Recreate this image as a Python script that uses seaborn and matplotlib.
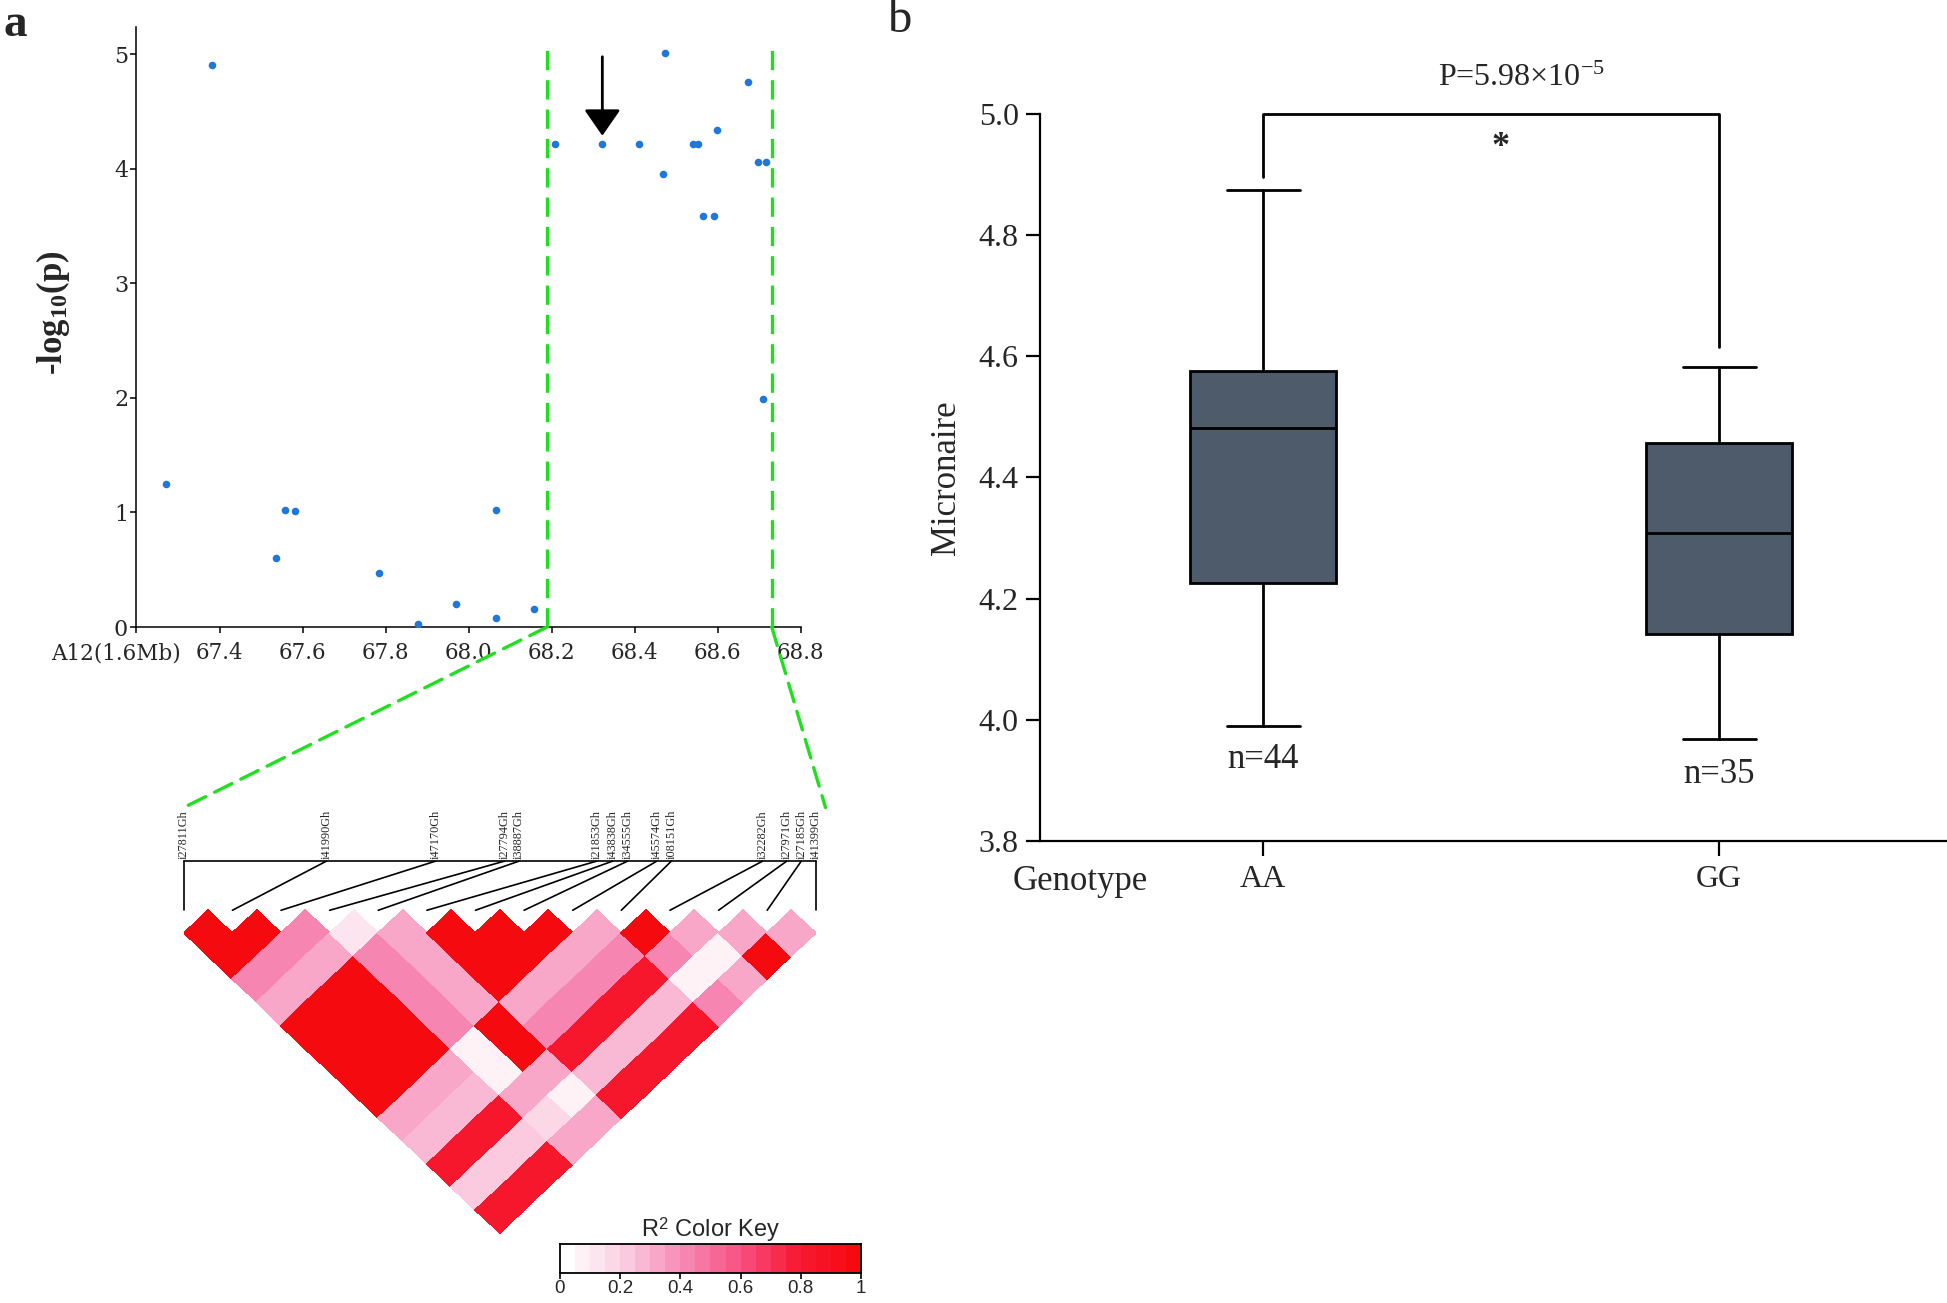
import numpy as np
import matplotlib
matplotlib.use("Agg")
import matplotlib.pyplot as plt
import seaborn as sns
from matplotlib.colors import LinearSegmentedColormap, Normalize
from matplotlib.patches import ConnectionPatch
from matplotlib.transforms import ScaledTranslation

# ---------------- data ----------------
snp_pos = [67.272, 67.382, 67.536, 67.558, 67.582, 67.783, 67.878, 67.970, 68.065, 68.067, 68.158,
           68.207, 68.322, 68.410, 68.469, 68.474, 68.540, 68.553, 68.565, 68.591, 68.598,
           68.674, 68.696, 68.710, 68.717]
snp_logp = [1.25, 4.91, 0.60, 1.02, 1.01, 0.47, 0.03, 0.20, 0.08, 1.02, 0.16,
            4.22, 4.22, 4.22, 3.96, 5.01, 4.22, 4.22, 3.59, 3.59, 4.34,
            4.76, 4.06, 1.99, 4.06]
region_bounds = [68.189, 68.730]
lead_snp = 68.322
x_ticks_a = [67.2, 67.4, 67.6, 67.8, 68.0, 68.2, 68.4, 68.6, 68.8]
x_ticklabels_a = ["A12(1.6Mb)", "67.4", "67.6", "67.8", "68.0", "68.2", "68.4", "68.6", "68.8"]

ld_labels = ["i27811Gh", "i41990Gh", "i47170Gh", "i27794Gh", "i38887Gh", "i21853Gh", "i43838Gh",
             "i34555Gh", "i45574Gh", "i08151Gh", "i32282Gh", "i27971Gh", "i27185Gh", "i41399Gh"]
# r^2 upper triangle, row i lists pairs (i, i+1 ... 13)
ld_r2_rows = [
    [1.0, 1.0, 0.42, 0.33, 1.0, 1.0, 1.0, 1.0, 0.33, 0.27, 0.82, 0.20, 0.82],
    [1.0, 0.42, 0.33, 1.0, 1.0, 1.0, 1.0, 0.33, 0.27, 0.82, 0.20, 0.82],
    [0.42, 0.33, 1.0, 1.0, 1.0, 1.0, 0.33, 0.27, 0.82, 0.20, 0.82],
    [0.12, 0.42, 0.42, 0.42, 0.42, 0.09, 0.09, 0.33, 0.15, 0.33],
    [0.33, 0.33, 0.33, 0.33, 1.0, 1.0, 0.33, 0.08, 0.33],
    [1.0, 1.0, 1.0, 0.33, 0.40, 0.82, 0.27, 0.82],
    [1.0, 1.0, 0.33, 0.40, 0.82, 0.27, 0.82],
    [1.0, 0.33, 0.40, 0.82, 0.27, 0.82],
    [0.33, 0.40, 0.82, 0.27, 0.82],
    [1.0, 0.40, 0.08, 0.40],
    [0.33, 0.08, 0.33],
    [0.33, 1.0],
    [0.33],
]
key_ticks = [0, 0.2, 0.4, 0.6, 0.8, 1.0]
key_ticklabels = ["0", "0.2", "0.4", "0.6", "0.8", "1"]

genotypes = ["AA", "GG"]
box_whislo = [3.990, 3.969]
box_q1 = [4.225, 4.141]
box_med = [4.482, 4.309]
box_q3 = [4.575, 4.457]
box_whishi = [4.874, 4.583]
group_n = [44, 35]
y_ticks_b = [3.8, 4.0, 4.2, 4.4, 4.6, 4.8, 5.0]
p_text = r"P=5.98×10$^{\mathregular{-5}}$"

# ---------------- style ----------------
sns.set_theme(style="ticks")
plt.rcParams["font.family"] = ["Liberation Serif", "DejaVu Serif"]
plt.rcParams["mathtext.fontset"] = "custom"
plt.rcParams["mathtext.rm"] = "Liberation Serif"
plt.rcParams["mathtext.bf"] = "Liberation Serif:bold"
plt.rcParams["mathtext.it"] = "Liberation Serif:italic"

GREEN = "#1fe01f"
DOT = "#1f78d8"
BOXC = "#4e5b6b"
green_ls = (0, (5.8, 3.0))

cmap = LinearSegmentedColormap.from_list(
    "ld", [(0.0, "#ffffff"), (0.2, "#fbcde0"), (0.4, "#f68bb6"), (0.6, "#f85282"),
           (0.8, "#f71a35"), (1.0, "#f50a10")]).resampled(20)
norm = Normalize(0, 1)

fig = plt.figure(figsize=(19.47, 13.03), dpi=100)

# ---------------- panel a: scatter ----------------
ax_a = fig.add_axes([0.0701, 0.5188, 0.3412, 0.4605])
sns.scatterplot(x=snp_pos, y=snp_logp, ax=ax_a, color=DOT, s=30, linewidth=0, zorder=4, legend=False)
ax_a.set_xlim(67.2, 68.8)
ax_a.set_ylim(0, 5.24)
ax_a.set_xticks(x_ticks_a)
ax_a.set_xticklabels(x_ticklabels_a, family="DejaVu Serif", fontsize=15.5)
ax_a.set_yticks(range(6))
ax_a.set_yticklabels([str(v) for v in range(6)], family="DejaVu Serif", fontsize=16)
for s in ["top", "right"]:
    ax_a.spines[s].set_visible(False)
for s in ["left", "bottom"]:
    ax_a.spines[s].set_linewidth(1.1)
    ax_a.spines[s].set_color("black")
ax_a.tick_params(length=4, width=1.1, color="black", pad=2)
ax_a.tick_params(axis="x", pad=7)
lab0 = ax_a.get_xticklabels()[0]
lab0.set_transform(lab0.get_transform() + ScaledTranslation(-0.20, 0, fig.dpi_scale_trans))
ax_a.set_ylabel(r"-log$_{\mathbf{10}}$(p)", fontsize=25, fontweight="bold")
ax_a.yaxis.set_label_coords(-0.097, 0.523)
for xb in region_bounds:
    ax_a.plot([xb, xb], [0, 5.1], color=GREEN, lw=2.4, ls=green_ls, zorder=3, clip_on=False)
ax_a.annotate("", xy=(lead_snp, 4.29), xytext=(lead_snp, 4.98),
              arrowprops=dict(arrowstyle="-|>,head_length=0.65,head_width=0.45", color="black",
                              lw=2, shrinkA=0, shrinkB=0, mutation_scale=25))

# ---------------- panel a: LD heatmap ----------------
ax_ld = fig.add_axes([0.0944, 0.052, 0.3246, 0.3343])
N = len(ld_labels)
C = np.full((N, N), np.nan)
for i, row in enumerate(ld_r2_rows):
    for k, val in enumerate(row):
        C[i, i + 1 + k] = val
C = np.ma.masked_invalid(C)
P, Q = np.meshgrid(np.arange(N + 1), np.arange(N + 1), indexing="ij")
U = (P + Q) / 2.0 - 0.5
V = -(Q - P) / 2.0
ax_ld.pcolormesh(U, V, C, cmap=cmap, norm=norm, edgecolors="face", linewidth=0.3)
ax_ld.set_xlim(0, N - 1)
ax_ld.set_ylim(-7.05, 2.4)
ax_ld.axis("off")

in_region = [p for p in snp_pos if region_bounds[0] < p < region_bounds[1]]
p0, p1 = in_region[0], in_region[-1]
u_labs = [(p - p0) / (p1 - p0) * (N - 1) for p in in_region]
# keep labels from overlapping (minimum spacing)
min_gap = 0.3
for _ in range(50):
    for k in range(1, N):
        if u_labs[k] - u_labs[k - 1] < min_gap:
            mid = (u_labs[k] + u_labs[k - 1]) / 2
            u_labs[k - 1] = mid - min_gap / 2
            u_labs[k] = mid + min_gap / 2
    u_labs[0] = max(u_labs[0], 0.0)
    u_labs[-1] = min(u_labs[-1], N - 1.0)
u_labs[0] = 0.0
u_labs[-1] = N - 1.0
v_line = 1.065
ax_ld.plot([0, N - 1], [v_line, v_line], color="black", lw=1.2, clip_on=False)
for k, (u_lab, name) in enumerate(zip(u_labs, ld_labels)):
    ax_ld.plot([u_lab, k], [v_line, 0], color="black", lw=1.2, clip_on=False)
    ax_ld.text(u_lab, v_line + 0.05, name, rotation=90, ha="center", va="bottom",
               fontsize=8.8, clip_on=False)

for xa, ub in [(region_bounds[0], 0.0), (region_bounds[1], 13.2)]:
    con = ConnectionPatch(xyA=(xa, 0), coordsA=ax_a.transData, xyB=(ub, 2.23), coordsB=ax_ld.transData,
                          color=GREEN, lw=2.4, ls=green_ls, zorder=5)
    fig.add_artist(con)

# ---------------- colour key ----------------
ax_key = fig.add_axes([0.2876, 0.0228, 0.1546, 0.0223])
edges = np.linspace(0, 1, 21)
mids = (edges[:-1] + edges[1:]) / 2
ax_key.pcolormesh(edges, [0, 1], mids[None, :], cmap=cmap, norm=norm)
ax_key.set_xlim(0, 1)
ax_key.set_ylim(0, 1)
ax_key.set_yticks([])
ax_key.set_xticks(key_ticks)
ax_key.set_xticklabels(key_ticklabels, family="Liberation Sans", fontsize=13.5)
ax_key.tick_params(axis="x", length=4, width=1.2, color="black", pad=0.5)
for s in ax_key.spines.values():
    s.set_linewidth(1.3)
    s.set_color("black")
ax_key.set_title(r"R$^{\mathregular{2}}$ Color Key", family="Liberation Sans", fontsize=17, pad=1)

# ---------------- panel b: box plot ----------------
ax_b = fig.add_axes([0.534, 0.3546, 0.466, 0.558])
stats = []
for g, lo, q1, md, q3, hi in zip(genotypes, box_whislo, box_q1, box_med, box_q3, box_whishi):
    stats.append(dict(label=g, whislo=lo, q1=q1, med=md, q3=q3, whishi=hi, fliers=[]))
ax_b.bxp(stats, positions=[0, 1], widths=0.32, capwidths=0.16, patch_artist=True, showfliers=False,
         boxprops=dict(facecolor=BOXC, edgecolor="black", linewidth=2),
         medianprops=dict(color="black", linewidth=2),
         whiskerprops=dict(color="black", linewidth=2),
         capprops=dict(color="black", linewidth=2))
ax_b.set_xlim(-0.49, 1.5)
ax_b.set_ylim(3.8, 5.0)
ax_b.set_yticks(y_ticks_b)
ax_b.set_yticklabels([f"{v:.1f}" for v in y_ticks_b], fontsize=23)
ax_b.set_xticks([-0.40, 0, 1])
ax_b.set_xticklabels(["Genotype"] + genotypes, fontsize=23)
ax_b.get_xticklabels()[0].set_fontsize(25)
ax_b.xaxis.get_major_ticks()[0].tick1line.set_visible(False)
for s in ["top", "right"]:
    ax_b.spines[s].set_visible(False)
for s in ["left", "bottom"]:
    ax_b.spines[s].set_linewidth(1.6)
    ax_b.spines[s].set_color("black")
ax_b.tick_params(axis="y", length=10, width=1.6, color="black", pad=5)
ax_b.tick_params(axis="x", length=11, width=1.6, color="black", pad=6)
ax_b.set_ylabel("Micronaire", fontsize=25)
ax_b.yaxis.set_label_coords(-0.085, 0.5)
ax_b.plot([0, 0, 1, 1], [4.896, 5.0, 5.0, 4.616], color="black", lw=2, clip_on=False)
ax_b.text(0.566, 5.058, p_text, ha="center", va="center", fontsize=23, clip_on=False)
ax_b.text(0.52, 4.945, "*", ha="center", va="center", fontsize=26, fontweight="bold")
ax_b.text(0.0, 3.934, f"n={group_n[0]}", ha="center", va="center", fontsize=25)
ax_b.text(1.0, 3.909, f"n={group_n[1]}", ha="center", va="center", fontsize=25)

fig.text(0.002, 0.997, "a", ha="left", va="top", fontsize=34, fontweight="bold")
fig.text(0.4625, 0.985, "b", ha="center", va="center", fontsize=35)

fig.savefig("out.png", dpi=100)
